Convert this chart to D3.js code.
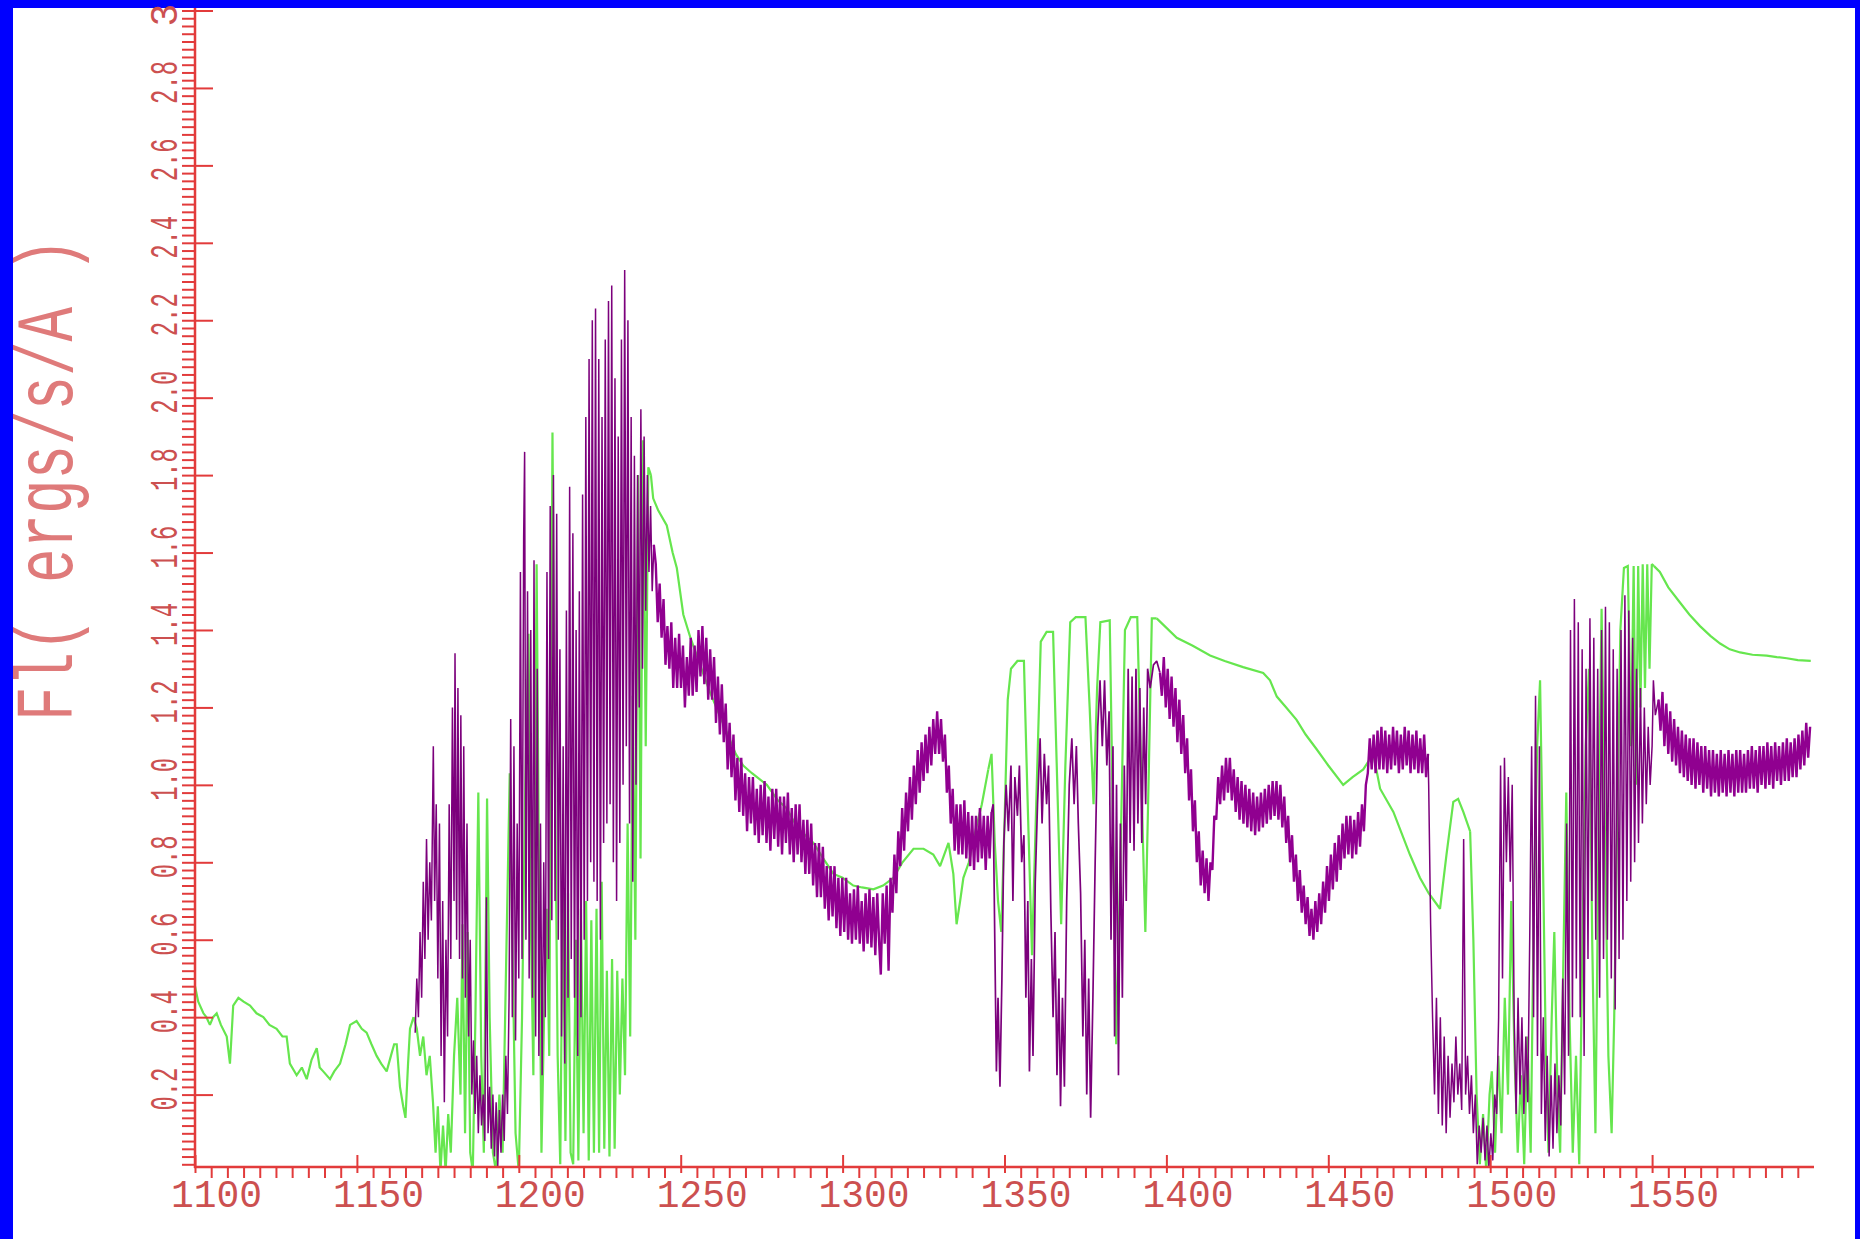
<!DOCTYPE html>
<html>
<head>
<meta charset="utf-8">
<script src="https://cdn.jsdelivr.net/npm/d3@7"></script>
<style>
  html, body { margin: 0; padding: 0; background: #ffffff; }
  svg { display: block; }
</style>
</head>
<body>
<svg id="chart" width="1860" height="1239"></svg>
<script>
// ---------- Tick values and labels ----------
const xMajorTicks = [1100, 1150, 1200, 1250, 1300, 1350, 1400, 1450, 1500, 1550];
const xTickLabels = ["1100", "1150", "1200", "1250", "1300", "1350", "1400", "1450", "1500", "1550"];
const yMajorTicks = [0.2, 0.4, 0.6, 0.8, 1.0, 1.2, 1.4, 1.6, 1.8, 2.0, 2.2, 2.4, 2.6, 2.8, 3.0];
const yTickLabels = ["0.2", "0.4", "0.6", "0.8", "1.0", "1.2", "1.4", "1.6", "1.8", "2.0", "2.2", "2.4", "2.6", "2.8", "3"];
const yTitle = "Fl( ergs/s/A )";

// ---------- Observed spectrum (purple), wavelength in A vs flux ----------
const obsFringeBlue = [
  [1168.0,0.36],[1168.5,0.50],[1169.0,0.40],[1169.5,0.62],[1170.0,0.45],[1170.5,0.75],[1171.0,0.55],[1171.5,0.86],
  [1172.0,0.60],[1172.5,0.80],[1173.0,0.65],[1173.6,1.10],[1174.0,0.70],[1174.5,0.95],[1175.0,0.50],[1175.5,0.90],
  [1176.0,0.30],[1176.5,0.70],[1177.0,0.18],[1177.5,0.60],[1178.0,0.35],[1178.5,0.95],[1179.0,0.55],[1179.5,1.20],
  [1180.0,0.70],[1180.3,1.34],[1180.8,0.60],[1181.2,1.25],[1181.7,0.55],[1182.1,1.18],[1182.6,0.50],[1183.0,1.10],
  [1183.5,0.45],[1184.0,0.90],[1184.5,0.35],[1185.0,0.60],[1185.5,0.20],[1186.0,0.34],[1186.5,0.15],[1187.0,0.30],
  [1187.5,0.10],[1188.0,0.25],[1188.5,0.12],[1189.0,0.20],[1189.5,0.08],[1190.0,0.71],[1190.5,0.10],[1191.0,0.22],
  [1191.5,0.06],[1192.0,0.20],[1192.5,0.04],[1193.0,0.18],[1193.5,0.015],[1194.0,0.16],[1194.5,0.05],[1195.0,0.20],
  [1195.5,0.08],[1196.0,0.30],[1196.5,0.15],[1197.0,0.45],[1197.5,1.17],[1198.0,0.40],[1198.5,1.10],[1199.0,0.34],
  [1199.5,0.90],[1200.0,0.50],[1200.5,1.55],[1201.0,0.55],[1201.5,1.64],[1201.8,1.86],[1202.2,0.60],[1202.7,1.50],
  [1203.2,0.50],[1203.7,1.40],[1204.2,0.45],[1204.7,1.58],[1205.2,0.35],[1205.7,1.30],[1206.2,0.30],[1206.7,0.90],
  [1207.2,0.25],[1207.7,0.80],[1208.2,0.40],[1208.7,1.55],[1209.2,0.55],[1209.7,1.72],[1210.2,0.65],[1210.7,1.80],
  [1211.2,0.70],[1211.7,1.70],[1212.2,0.60],[1212.7,1.35],[1213.2,0.35],[1213.7,1.10],[1214.2,0.28],[1214.7,1.45],
  [1215.2,0.45],[1215.7,1.77],[1216.2,0.55],[1216.7,1.65],[1217.2,0.45],[1217.7,1.40],[1218.2,0.30],[1218.7,1.50],
  [1219.2,0.40],[1219.7,1.75],[1220.2,0.60],[1220.7,1.95],[1221.2,0.70],[1221.7,2.10],[1222.2,0.80],[1222.7,2.20],
  [1223.2,0.75],[1223.7,2.23],[1224.2,0.70],[1224.7,2.10],[1225.2,0.60],[1225.7,1.95],[1226.2,0.85],[1226.7,2.15],
  [1227.2,0.90],[1227.7,2.25],[1228.2,0.95],[1228.7,2.29],[1229.2,0.80],[1229.7,2.05],[1230.2,0.70],[1230.7,1.90],
  [1231.2,0.85],[1231.7,2.15],[1232.2,1.00],[1232.7,2.33],[1233.2,1.10],[1233.7,2.20],[1234.2,0.90],[1234.7,1.95],
  [1235.2,0.75],[1235.7,1.85],[1236.2,1.00],[1236.7,1.80],[1237.2,1.20],[1237.7,1.97],[1238.2,1.30],[1238.7,1.90],
  [1239.2,1.45],[1239.7,1.80],[1240.2,1.55],[1240.7,1.72],[1241.2,1.50],[1241.7,1.62]
];
const obsContinuumA = [
  [1241.7,1.62],[1242.3,1.57],[1242.9,1.42],[1243.5,1.52],[1244.1,1.38],[1244.7,1.48],[1245.3,1.31],[1245.9,1.41],
  [1246.5,1.30],[1247.1,1.42],[1247.7,1.25],[1248.3,1.38],[1248.9,1.25],[1249.5,1.39],[1250.1,1.25],[1250.7,1.36],
  [1251.3,1.20],[1251.9,1.33],[1252.5,1.23],[1253.1,1.38],[1253.7,1.23],[1254.3,1.36],[1254.9,1.24],[1255.5,1.40],
  [1256.1,1.28],[1256.7,1.41],[1257.3,1.26],[1257.9,1.38],[1258.5,1.22],[1259.1,1.35],[1259.7,1.22],[1260.3,1.33],
  [1260.9,1.16],[1261.5,1.28],[1262.1,1.13],[1262.7,1.26],[1263.3,1.11],[1263.9,1.21],[1264.5,1.04],[1265.1,1.16],
  [1265.7,1.02],[1266.3,1.13],[1266.9,0.96],[1267.5,1.07],[1268.1,0.93],[1268.7,1.07],[1269.3,0.92],[1269.9,1.03],
  [1270.5,0.88],[1271.1,1.02],[1271.7,0.90],[1272.3,1.02],[1272.9,0.87],[1273.5,0.99],[1274.1,0.85],[1274.7,1.00],
  [1275.3,0.87],[1275.9,1.01],[1276.5,0.85],[1277.1,0.97],[1277.7,0.83],[1278.3,0.99],[1278.9,0.86],[1279.5,0.99],
  [1280.1,0.84],[1280.7,0.97],[1281.3,0.82],[1281.9,0.97],[1282.5,0.85],[1283.1,0.98],[1283.7,0.82],[1284.3,0.94],
  [1284.9,0.80],[1285.5,0.95],[1286.1,0.82],[1286.7,0.95],[1287.3,0.80],[1287.9,0.91],[1288.5,0.77],[1289.1,0.91],
  [1289.7,0.77],[1290.3,0.90],[1290.9,0.74],[1291.5,0.85],[1292.1,0.71],[1292.7,0.85],[1293.3,0.71],[1293.9,0.84],
  [1294.5,0.68],[1295.1,0.79],[1295.7,0.65],[1296.3,0.79],[1296.9,0.66],[1297.5,0.79],[1298.1,0.63],[1298.7,0.76],
  [1299.3,0.61],[1299.9,0.76],[1300.5,0.62],[1301.1,0.76],[1301.7,0.60],[1302.3,0.72],[1302.9,0.59],[1303.5,0.73],
  [1304.1,0.60],[1304.7,0.74],[1305.3,0.59],[1305.9,0.70],[1306.5,0.57],[1307.1,0.72],[1307.7,0.59],[1308.3,0.73],
  [1308.9,0.58],[1309.5,0.71],[1310.1,0.56],[1310.7,0.72],[1311.3,0.59],[1311.8,0.51],[1312.4,0.72],[1313.0,0.59],
  [1313.6,0.74],[1314.2,0.52],[1314.8,0.76],[1315.4,0.67],[1316.0,0.82],[1316.6,0.72],[1317.2,0.88],[1317.8,0.79],
  [1318.4,0.94],[1319.0,0.83],[1319.6,0.98],[1320.2,0.88],[1320.8,1.02],[1321.4,0.91],[1322.0,1.05],[1322.6,0.95],
  [1323.2,1.09],[1323.8,0.98],[1324.4,1.11],[1325.0,1.01],[1325.6,1.13],[1326.2,1.03],[1326.8,1.15],[1327.4,1.05],
  [1328.0,1.17],[1328.6,1.08],[1329.2,1.19],[1329.8,1.08],[1330.4,1.17],[1331.0,1.06],[1331.6,1.13],[1332.2,0.98],
  [1332.8,1.05],[1333.4,0.90],[1334.0,0.99],[1334.6,0.83],[1335.2,0.95],[1335.8,0.82],[1336.4,0.95],[1337.0,0.82],
  [1337.6,0.96],[1338.2,0.81],[1338.8,0.93],[1339.4,0.79],[1340.0,0.92],[1340.6,0.78],[1341.2,0.92],[1341.8,0.80],
  [1342.4,0.94],[1343.0,0.81],[1343.6,0.92],[1344.2,0.78],[1344.8,0.92],[1345.4,0.81],[1346.0,0.93]
];
const obsFringeMid = [
  [1346.0,0.93],[1346.5,0.95],[1347.0,0.60],[1347.5,0.26],[1348.0,0.45],[1348.6,0.22],[1349.2,0.50],[1349.8,0.85],
  [1350.5,1.00],[1351.2,0.88],[1352.0,1.05],[1352.6,0.70],[1353.2,1.02],[1354.0,0.92],[1354.6,1.05],[1355.3,0.80],
  [1356.0,0.87],[1356.6,0.45],[1357.2,0.70],[1357.7,0.26],[1358.3,0.55],[1358.8,0.30],[1359.5,0.75],[1360.2,0.95],
  [1361.0,1.12],[1361.6,0.90],[1362.3,1.08],[1363.0,0.95],[1363.6,1.05],[1364.3,0.68],[1365.0,0.40],[1365.6,0.62],
  [1366.2,0.25],[1366.8,0.50],[1367.3,0.17],[1367.9,0.45],[1368.5,0.22],[1369.2,0.70],[1370.0,1.00],[1370.8,1.12],
  [1371.5,0.95],[1372.2,1.10],[1372.8,0.90],[1373.5,0.72],[1374.2,0.35],[1374.8,0.60],[1375.4,0.20],[1376.0,0.50],
  [1376.6,0.14],[1377.3,0.45],[1378.0,0.80],[1378.8,1.15],[1379.5,1.27],[1380.2,1.10],[1380.9,1.27],[1381.6,1.05],
  [1382.3,1.19],[1382.9,0.60],[1383.5,1.10],[1384.0,0.35],[1384.6,1.00],[1385.2,0.25],[1385.8,0.90],[1386.4,0.45],
  [1387.0,1.05],[1387.6,0.70],[1388.2,1.30],[1388.8,0.85],[1389.4,1.28],[1390.0,0.83],[1390.6,1.30],[1391.2,0.90],
  [1391.8,1.25],[1392.4,0.85],[1393.0,1.20],[1393.6,0.95],[1394.2,1.30],[1395.0,1.25],[1396.0,1.31],[1397.0,1.32],
  [1398.0,1.29]
];
const obsContinuumB = [
  [1398.0,1.29],[1398.6,1.23],[1399.2,1.33],[1399.8,1.20],[1400.4,1.30],[1401.0,1.17],[1401.6,1.28],[1402.2,1.15],
  [1402.8,1.25],[1403.4,1.11],[1404.0,1.22],[1404.6,1.08],[1405.2,1.18],[1405.8,1.03],[1406.4,1.12],[1407.0,0.96],
  [1407.6,1.04],[1408.2,0.88],[1408.8,0.96],[1409.4,0.80],[1410.0,0.88],[1410.6,0.74],[1411.2,0.83],[1411.8,0.72],
  [1412.4,0.81],[1413.0,0.70],[1413.6,0.80],[1414.2,0.78],[1414.8,0.92],[1415.4,0.91],[1416.0,1.02],[1416.6,0.95],
  [1417.2,1.05],[1417.8,0.96],[1418.4,1.07],[1419.0,0.98],[1419.6,1.07],[1420.2,0.96],[1420.8,1.04],[1421.4,0.93],
  [1422.0,1.02],[1422.6,0.91],[1423.2,1.01],[1423.8,0.90],[1424.4,1.00],[1425.0,0.89],[1425.6,0.99],[1426.2,0.88],
  [1426.8,0.98],[1427.4,0.87],[1428.0,0.97],[1428.6,0.88],[1429.2,0.98],[1429.8,0.89],[1430.4,0.99],[1431.0,0.90],
  [1431.6,1.00],[1432.2,0.91],[1432.8,1.01],[1433.4,0.92],[1434.0,1.01],[1434.6,0.91],[1435.2,1.00],[1435.8,0.89],
  [1436.4,0.97],[1437.0,0.85],[1437.6,0.92],[1438.2,0.80],[1438.8,0.87],[1439.4,0.75],[1440.0,0.82],[1440.6,0.70],
  [1441.2,0.78],[1441.8,0.67],[1442.4,0.74],[1443.0,0.64],[1443.6,0.71],[1444.2,0.61],[1444.8,0.68],[1445.4,0.60],
  [1446.0,0.70],[1446.6,0.62],[1447.2,0.72],[1447.8,0.64],[1448.4,0.75],[1449.0,0.67],[1449.6,0.79],[1450.2,0.70],
  [1450.8,0.82],[1451.4,0.73],[1452.0,0.85],[1452.6,0.75],[1453.2,0.87],[1453.8,0.78],[1454.4,0.90],[1455.0,0.81],
  [1455.6,0.92],[1456.2,0.82],[1456.8,0.92],[1457.4,0.81],[1458.0,0.91],[1458.6,0.82],[1459.2,0.93],[1459.8,0.84],
  [1460.4,0.95],[1461.0,0.88],[1461.6,1.00],[1462.2,1.03],[1462.8,1.12],[1463.4,1.04],[1464.0,1.13],[1464.6,1.03],
  [1465.2,1.14],[1465.8,1.04],[1466.4,1.15],[1467.0,1.04],[1467.6,1.14],[1468.2,1.03],[1468.8,1.13],[1469.4,1.04],
  [1470.0,1.15],[1470.6,1.05],[1471.2,1.14],[1471.8,1.03],[1472.4,1.13],[1473.0,1.04],[1473.6,1.15],[1474.2,1.05],
  [1474.8,1.14],[1475.4,1.03],[1476.0,1.13],[1476.6,1.04],[1477.2,1.14],[1477.8,1.03],[1478.4,1.12],[1479.0,1.03],
  [1479.6,1.13],[1480.2,1.02],[1480.8,1.08]
];
const obsFringeRed = [
  [1480.8,1.08],[1481.0,1.00],[1481.6,0.64],[1482.2,0.40],[1482.8,0.20],[1483.4,0.45],[1484.0,0.15],[1484.6,0.40],
  [1485.2,0.12],[1485.8,0.35],[1486.4,0.10],[1487.0,0.30],[1487.6,0.14],[1488.2,0.28],[1488.8,0.18],[1489.4,0.35],
  [1490.0,0.20],[1490.6,0.28],[1491.2,0.16],[1491.8,0.86],[1492.4,0.20],[1493.0,0.30],[1493.6,0.15],[1494.2,0.25],
  [1494.8,0.10],[1495.4,0.20],[1496.0,0.02],[1496.6,0.12],[1497.2,0.05],[1497.8,0.14],[1498.4,0.03],[1499.0,0.12],
  [1499.6,0.01],[1500.2,0.10],[1500.8,0.03],[1501.4,0.20],[1502.0,0.15],[1502.6,0.40],[1503.2,1.05],[1503.8,0.50],
  [1504.4,1.07],[1505.0,0.80],[1505.6,1.02],[1506.2,0.75],[1506.8,1.00],[1507.4,0.40],[1508.0,0.15],[1508.6,0.45],
  [1509.2,0.20],[1509.8,0.40],[1510.4,0.15],[1511.0,0.35],[1511.6,0.18],[1512.2,0.60],[1512.8,1.10],[1513.4,0.40],
  [1514.0,1.23],[1514.6,0.30],[1515.2,1.10],[1515.8,0.15],[1516.4,0.40],[1517.0,0.08],[1517.6,0.30],[1518.2,0.04],
  [1518.8,0.25],[1519.4,0.06],[1520.0,0.28],[1520.6,0.10],[1521.2,0.25],[1521.8,0.12],[1522.4,0.50],[1523.0,0.20],
  [1523.6,0.90],[1524.2,0.30],[1524.8,1.40],[1525.4,0.40],[1526.0,1.48],[1526.6,0.50],[1527.2,1.42],[1527.8,0.40],
  [1528.4,1.35],[1529.0,0.30],[1529.6,1.30],[1530.2,0.55],[1530.8,1.43],[1531.4,0.70],[1532.0,1.38],[1532.6,0.60],
  [1533.2,1.30],[1533.8,0.45],[1534.4,1.40],[1535.0,0.55],[1535.6,1.46],[1536.2,0.60],[1536.8,1.42],[1537.4,0.50],
  [1538.0,1.35],[1538.6,0.42],[1539.2,1.30],[1539.8,0.55],[1540.4,1.40],[1541.0,0.60],[1541.6,1.49],[1542.2,0.70],
  [1542.8,1.45],[1543.4,0.75],[1544.0,1.38],[1544.6,0.80],[1545.2,1.30],[1545.8,0.85],[1546.4,1.25],[1547.0,0.90],
  [1547.6,1.20],[1548.2,0.95],[1548.8,1.15],[1549.4,1.00],[1550.0,1.10],[1550.4,1.27],[1551.0,1.18],[1552.0,1.22]
];
const obsContinuumC = [
  [1552.0,1.22],[1552.6,1.14],[1553.2,1.24],[1553.8,1.10],[1554.4,1.21],[1555.0,1.08],[1555.6,1.19],[1556.2,1.06],
  [1556.8,1.17],[1557.4,1.05],[1558.0,1.15],[1558.6,1.03],[1559.2,1.14],[1559.8,1.02],[1560.4,1.13],[1561.0,1.01],
  [1561.6,1.12],[1562.2,1.00],[1562.8,1.12],[1563.4,0.99],[1564.0,1.11],[1564.6,1.00],[1565.2,1.10],[1565.8,0.98],
  [1566.4,1.10],[1567.0,0.99],[1567.6,1.09],[1568.2,0.97],[1568.8,1.09],[1569.4,0.98],[1570.0,1.08],[1570.6,0.97],
  [1571.2,1.09],[1571.8,0.98],[1572.4,1.08],[1573.0,0.97],[1573.6,1.09],[1574.2,0.98],[1574.8,1.08],[1575.4,0.97],
  [1576.0,1.09],[1576.6,0.98],[1577.2,1.09],[1577.8,0.98],[1578.4,1.08],[1579.0,0.98],[1579.6,1.09],[1580.2,0.99],
  [1580.8,1.10],[1581.4,0.99],[1582.0,1.09],[1582.6,0.98],[1583.2,1.10],[1583.8,1.00],[1584.4,1.10],[1585.0,0.99],
  [1585.6,1.11],[1586.2,1.00],[1586.8,1.10],[1587.4,0.99],[1588.0,1.11],[1588.6,1.01],[1589.2,1.10],[1589.8,1.00],
  [1590.4,1.11],[1591.0,1.01],[1591.6,1.12],[1592.2,1.01],[1592.8,1.11],[1593.4,1.02],[1594.0,1.12],[1594.6,1.02],
  [1595.2,1.13],[1595.8,1.04],[1596.4,1.14],[1597.0,1.05],[1597.6,1.16],[1598.2,1.07],[1598.8,1.15]
];

// ---------- Model spectrum (green) ----------
const modelBlue = [
  [1100.0,0.48],[1101.0,0.44],[1102.6,0.41],[1103.5,0.40],[1104.6,0.38],[1105.6,0.40],[1106.7,0.41],[1108.0,0.38],
  [1109.8,0.35],[1110.8,0.28],[1111.8,0.43],[1113.4,0.45],[1115.0,0.44],[1117.0,0.43],[1119.0,0.41],[1121.1,0.40],
  [1123.0,0.38],[1125.2,0.37],[1127.0,0.35],[1128.3,0.35],[1129.3,0.28],[1131.4,0.25],[1133.0,0.27],[1134.5,0.24],
  [1136.0,0.29],[1137.6,0.32],[1138.5,0.27],[1139.6,0.26],[1141.7,0.24],[1143.0,0.26],[1144.8,0.28],[1146.5,0.33],
  [1147.9,0.38],[1149.9,0.39],[1151.5,0.37],[1153.0,0.36],[1154.5,0.33],[1156.1,0.30],[1157.5,0.28],[1159.2,0.26],
  [1160.5,0.30],[1161.5,0.33],[1162.3,0.33],[1163.3,0.22],[1164.3,0.17],[1165.0,0.14],[1165.8,0.28],[1166.4,0.37],
  [1167.5,0.40]
];
const modelFringeBlue = [
  [1167.5,0.40],[1168.5,0.37],[1169.5,0.30],[1170.5,0.35],[1171.5,0.25],[1172.5,0.30],[1173.5,0.18],[1174.3,0.05],
  [1175.0,0.17],[1175.8,0.00],[1176.6,0.12],[1177.4,0.00],[1178.2,0.15],[1179.0,0.05],[1180.0,0.30],[1181.0,0.45],
  [1182.0,0.20],[1182.6,0.64],[1183.4,0.10],[1184.2,0.62],[1185.0,0.05],[1185.8,0.00],[1186.6,0.40],[1187.5,0.98],
  [1188.4,0.30],[1189.2,0.05],[1190.2,0.965],[1191.0,0.40],[1192.0,0.05],[1193.0,0.00],[1194.0,0.20],[1195.0,0.05],
  [1196.0,0.50],[1197.2,1.03],[1198.0,0.60],[1199.0,0.10],[1200.0,0.00],[1201.0,0.40],[1202.0,1.00],[1203.0,1.39],
  [1203.8,0.60],[1204.5,0.25],[1205.5,1.57],[1206.3,0.70],[1207.0,0.05],[1207.8,0.40],[1208.6,0.68],[1209.4,0.30],
  [1210.4,1.91],[1211.2,1.00],[1212.0,0.30],[1212.8,0.02],[1213.6,0.75],[1214.4,0.08],[1215.2,0.72],[1216.0,0.05],
  [1216.8,0.02],[1217.6,0.60],[1218.4,0.03],[1219.2,0.68],[1220.0,0.10],[1220.8,0.70],[1221.6,0.03],[1222.4,0.65],
  [1223.2,0.05],[1224.0,0.68],[1224.8,0.05],[1225.6,0.75],[1226.4,0.06],[1227.2,0.52],[1228.0,0.04],[1228.8,0.55],
  [1229.6,0.06],[1230.4,0.52],[1231.2,0.20],[1232.0,0.50],[1232.8,0.25],[1233.6,0.90],[1234.4,0.35],[1235.2,1.23],
  [1236.0,0.60],[1236.8,1.80],[1237.6,0.81],[1238.4,1.89],[1239.2,1.10],[1240.0,1.82],[1240.8,1.80]
];
const modelMid = [
  [1240.8,1.80],[1241.5,1.74],[1243.0,1.71],[1245.7,1.67],[1247.5,1.60],[1248.8,1.56],[1250.8,1.44],[1253.0,1.38],
  [1256.0,1.31],[1259.0,1.24],[1262.0,1.18],[1265.0,1.12],[1267.0,1.08],[1269.3,1.05],[1272.0,1.03],[1276.6,1.00],
  [1280.0,0.96],[1282.7,0.94],[1286.0,0.89],[1291.0,0.85],[1294.0,0.81],[1297.2,0.77],[1300.0,0.76],[1303.3,0.74],
  [1306.0,0.735],[1309.5,0.73],[1312.5,0.74],[1315.7,0.76],[1318.5,0.80],[1321.9,0.835],[1325.0,0.835],[1328.0,0.82],
  [1330.1,0.79],[1332.7,0.85],[1334.2,0.77],[1335.2,0.64],[1336.3,0.70],[1337.3,0.76],[1339.0,0.80],[1341.0,0.88],
  [1343.0,0.95],[1345.0,1.04]
];
const modelFringeMid = [
  [1345.0,1.04],[1346.0,1.08],[1347.0,0.85],[1348.0,0.70],[1349.0,0.62],[1350.0,0.90],[1351.0,1.22],[1352.0,1.30],
  [1354.0,1.32],[1356.0,1.32],[1357.0,1.00],[1358.5,0.56],[1359.8,0.95],[1361.2,1.37],[1363.0,1.395],[1365.0,1.395],
  [1366.3,1.00],[1367.5,0.64],[1368.8,1.05],[1370.3,1.42],[1372.0,1.433],[1375.0,1.433],[1376.3,1.20],[1377.5,0.95],
  [1378.6,1.25],[1379.6,1.42],[1382.5,1.425],[1383.5,0.90],[1384.5,0.33],[1385.8,0.80],[1387.2,1.40],[1389.0,1.433],
  [1391.0,1.433],[1392.3,1.00],[1393.5,0.62],[1394.6,1.05],[1395.5,1.43],[1397.0,1.43]
];
const modelRedSlope = [
  [1397.0,1.43],[1403.2,1.38],[1408.0,1.36],[1413.5,1.334],[1418.0,1.32],[1423.7,1.304],[1429.9,1.289],[1432.0,1.27],
  [1434.1,1.228],[1437.0,1.20],[1440.2,1.168],[1443.0,1.13],[1446.4,1.092],[1450.0,1.05],[1454.6,1.00],[1457.5,1.02],
  [1460.8,1.04],[1463.9,1.08],[1466.0,0.99],[1470.1,0.93],[1475.2,0.82],[1478.3,0.76],[1481.0,0.72],[1484.5,0.68],
  [1486.5,0.82],[1488.6,0.956],[1490.1,0.964],[1491.7,0.93],[1493.8,0.88]
];
const modelFringeRed = [
  [1493.8,0.88],[1494.8,0.60],[1495.8,0.20],[1496.8,0.02],[1497.8,0.15],[1498.8,0.00],[1499.8,0.20],[1500.5,0.26],
  [1501.5,0.05],[1502.5,0.30],[1503.5,0.10],[1504.5,0.45],[1505.5,0.20],[1506.5,0.70],[1507.5,0.30],[1508.5,0.05],
  [1509.5,0.25],[1510.5,0.02],[1511.5,0.35],[1512.5,0.05],[1513.5,0.70],[1514.5,1.10],[1515.4,1.27],[1516.3,0.80],
  [1517.2,0.30],[1518.0,0.05],[1519.0,0.40],[1519.8,0.62],[1520.8,0.20],[1521.6,0.05],[1522.5,0.50],[1523.5,0.98],
  [1524.5,0.40],[1525.5,0.05],[1526.5,0.30],[1527.5,0.02],[1528.5,0.60],[1529.5,1.10],[1530.5,1.30],[1531.5,0.60],
  [1532.5,0.10],[1533.5,0.90],[1534.4,1.455],[1535.4,0.90],[1536.5,0.30],[1537.5,0.10],[1538.3,0.40],[1539.2,0.90],
  [1540.2,1.40],[1541.3,1.56],[1542.5,1.565],[1543.5,1.10],[1544.3,1.565],[1545.0,1.00],[1545.7,1.565],[1546.4,1.20],
  [1547.1,1.57],[1547.8,1.25],[1548.5,1.57],[1549.2,1.30],[1549.9,1.57],[1550.6,1.565]
];
const modelTail = [
  [1550.6,1.565],[1552.4,1.55],[1555.0,1.51],[1558.6,1.471],[1561.5,1.44],[1564.8,1.41],[1568.0,1.385],[1571.0,1.365],
  [1574.0,1.35],[1577.2,1.342],[1581.0,1.336],[1585.4,1.334],[1588.5,1.33],[1591.6,1.327],[1595.0,1.322],[1599.0,1.32]
];

// ---------- Layout ----------
const W = 1860, H = 1239;
const AXIS_RED = "#e23b3b";
const LABEL_RED = "#cc5050";
const TITLE_RED = "#df7a7a";
const OBS_COLOR = "#900090";
const OBS_FRINGE_COLOR = "#7c007c";
const MODEL_COLOR = "#66e64e";
const FONT = "'Liberation Mono', 'DejaVu Sans Mono', monospace";

const x = d3.scaleLinear().domain([1100, 1600]).range([195, 1814]);
const y = d3.scaleLinear().domain([0.013, 3.0]).range([1167, 10.5]);

const svg = d3.select("#chart");

// blue frame around a white page
svg.append("rect").attr("x", 0).attr("y", 0).attr("width", W).attr("height", H).attr("fill", "#0000ff");
svg.append("rect").attr("x", 13).attr("y", 8).attr("width", W - 13 - 5).attr("height", H - 8).attr("fill", "#ffffff");

svg.append("clipPath").attr("id", "plot-clip")
  .append("rect").attr("x", 195).attr("y", 8).attr("width", 1814 - 195).attr("height", 1167 - 8);

const line = d3.line().x(d => x(d[0])).y(d => y(d[1]));
const plot = svg.append("g").attr("clip-path", "url(#plot-clip)");

// model first, observed drawn over it
[modelBlue, modelFringeBlue, modelMid, modelFringeMid, modelRedSlope, modelFringeRed, modelTail].forEach(seg => {
  plot.append("path").datum(seg).attr("d", line)
    .attr("fill", "none").attr("stroke", MODEL_COLOR).attr("stroke-width", 2.2)
    .attr("stroke-linejoin", "miter").attr("stroke-miterlimit", 2);
});
// fringe stretches drawn thin and dark, continuum stretches as a heavier band
[
  [obsFringeBlue, 1.5, OBS_FRINGE_COLOR], [obsContinuumA, 2.4, OBS_COLOR], [obsFringeMid, 1.7, OBS_FRINGE_COLOR],
  [obsContinuumB, 2.4, OBS_COLOR], [obsFringeRed, 1.5, OBS_FRINGE_COLOR], [obsContinuumC, 2.4, OBS_COLOR]
].forEach(([seg, w, c]) => {
  plot.append("path").datum(seg).attr("d", line)
    .attr("fill", "none").attr("stroke", c).attr("stroke-width", w)
    .attr("stroke-linejoin", "miter").attr("stroke-miterlimit", 2);
});

// ---------- Axes ----------
function styleAxis(g) {
  g.select(".domain").remove();
  g.selectAll(".tick line").attr("stroke", AXIS_RED).attr("stroke-width", 2);
  g.selectAll(".tick text").remove();
}

const xMinor = d3.range(1105, 1600, 5).filter(v => v % 50 !== 0);
svg.append("g").attr("transform", "translate(0,1167)")
  .call(d3.axisBottom(x).tickValues(xMinor).tickSize(11).tickFormat(""))
  .call(styleAxis);
svg.append("g").attr("transform", "translate(0,1173)")
  .call(d3.axisTop(x).tickValues(xMajorTicks).tickSize(18).tickFormat(""))
  .call(styleAxis);

const yMinor = d3.range(1, 150).map(i => i * 0.02).filter(v => Math.abs(v * 5 - Math.round(v * 5)) > 1e-6);
svg.append("g").attr("transform", "translate(195,0)")
  .call(d3.axisLeft(y).tickValues(yMinor).tickSize(13).tickFormat(""))
  .call(styleAxis);
svg.append("g").attr("transform", "translate(182,0)")
  .call(d3.axisRight(y).tickValues(yMajorTicks).tickSize(31).tickFormat(""))
  .call(styleAxis);

// axis lines
svg.append("line").attr("x1", 195).attr("x2", 195).attr("y1", 8).attr("y2", 1168)
  .attr("stroke", AXIS_RED).attr("stroke-width", 2.5);
svg.append("line").attr("x1", 194).attr("x2", 1814).attr("y1", 1167).attr("y2", 1167)
  .attr("stroke", AXIS_RED).attr("stroke-width", 2.5);

// x tick labels
svg.append("g").selectAll("text").data(xMajorTicks).join("text")
  .attr("x", d => x(d) - 24).attr("y", 1207)
  .attr("font-family", FONT).attr("font-size", 38)
  .attr("textLength", 91).attr("lengthAdjust", "spacingAndGlyphs")
  .attr("fill", LABEL_RED)
  .text((d, i) => xTickLabels[i]);

// y tick labels, written upward
svg.append("g").selectAll("text").data(yMajorTicks).join("text")
  .attr("transform", d => `translate(177,${y(d) + 16}) rotate(-90)`)
  .attr("font-family", FONT).attr("font-size", 38)
  .each(function (d, i) {
    const t = d3.select(this).text(yTickLabels[i]);
    if (yTickLabels[i].length > 1) t.attr("textLength", 43).attr("lengthAdjust", "spacingAndGlyphs");
  })
  .attr("fill", LABEL_RED);

// y axis title
svg.append("text")
  .attr("transform", "translate(72,721) rotate(-90)")
  .attr("font-family", FONT).attr("font-size", 82)
  .attr("textLength", 483).attr("lengthAdjust", "spacingAndGlyphs")
  .attr("fill", TITLE_RED)
  .text(yTitle);
</script>
</body>
</html>
